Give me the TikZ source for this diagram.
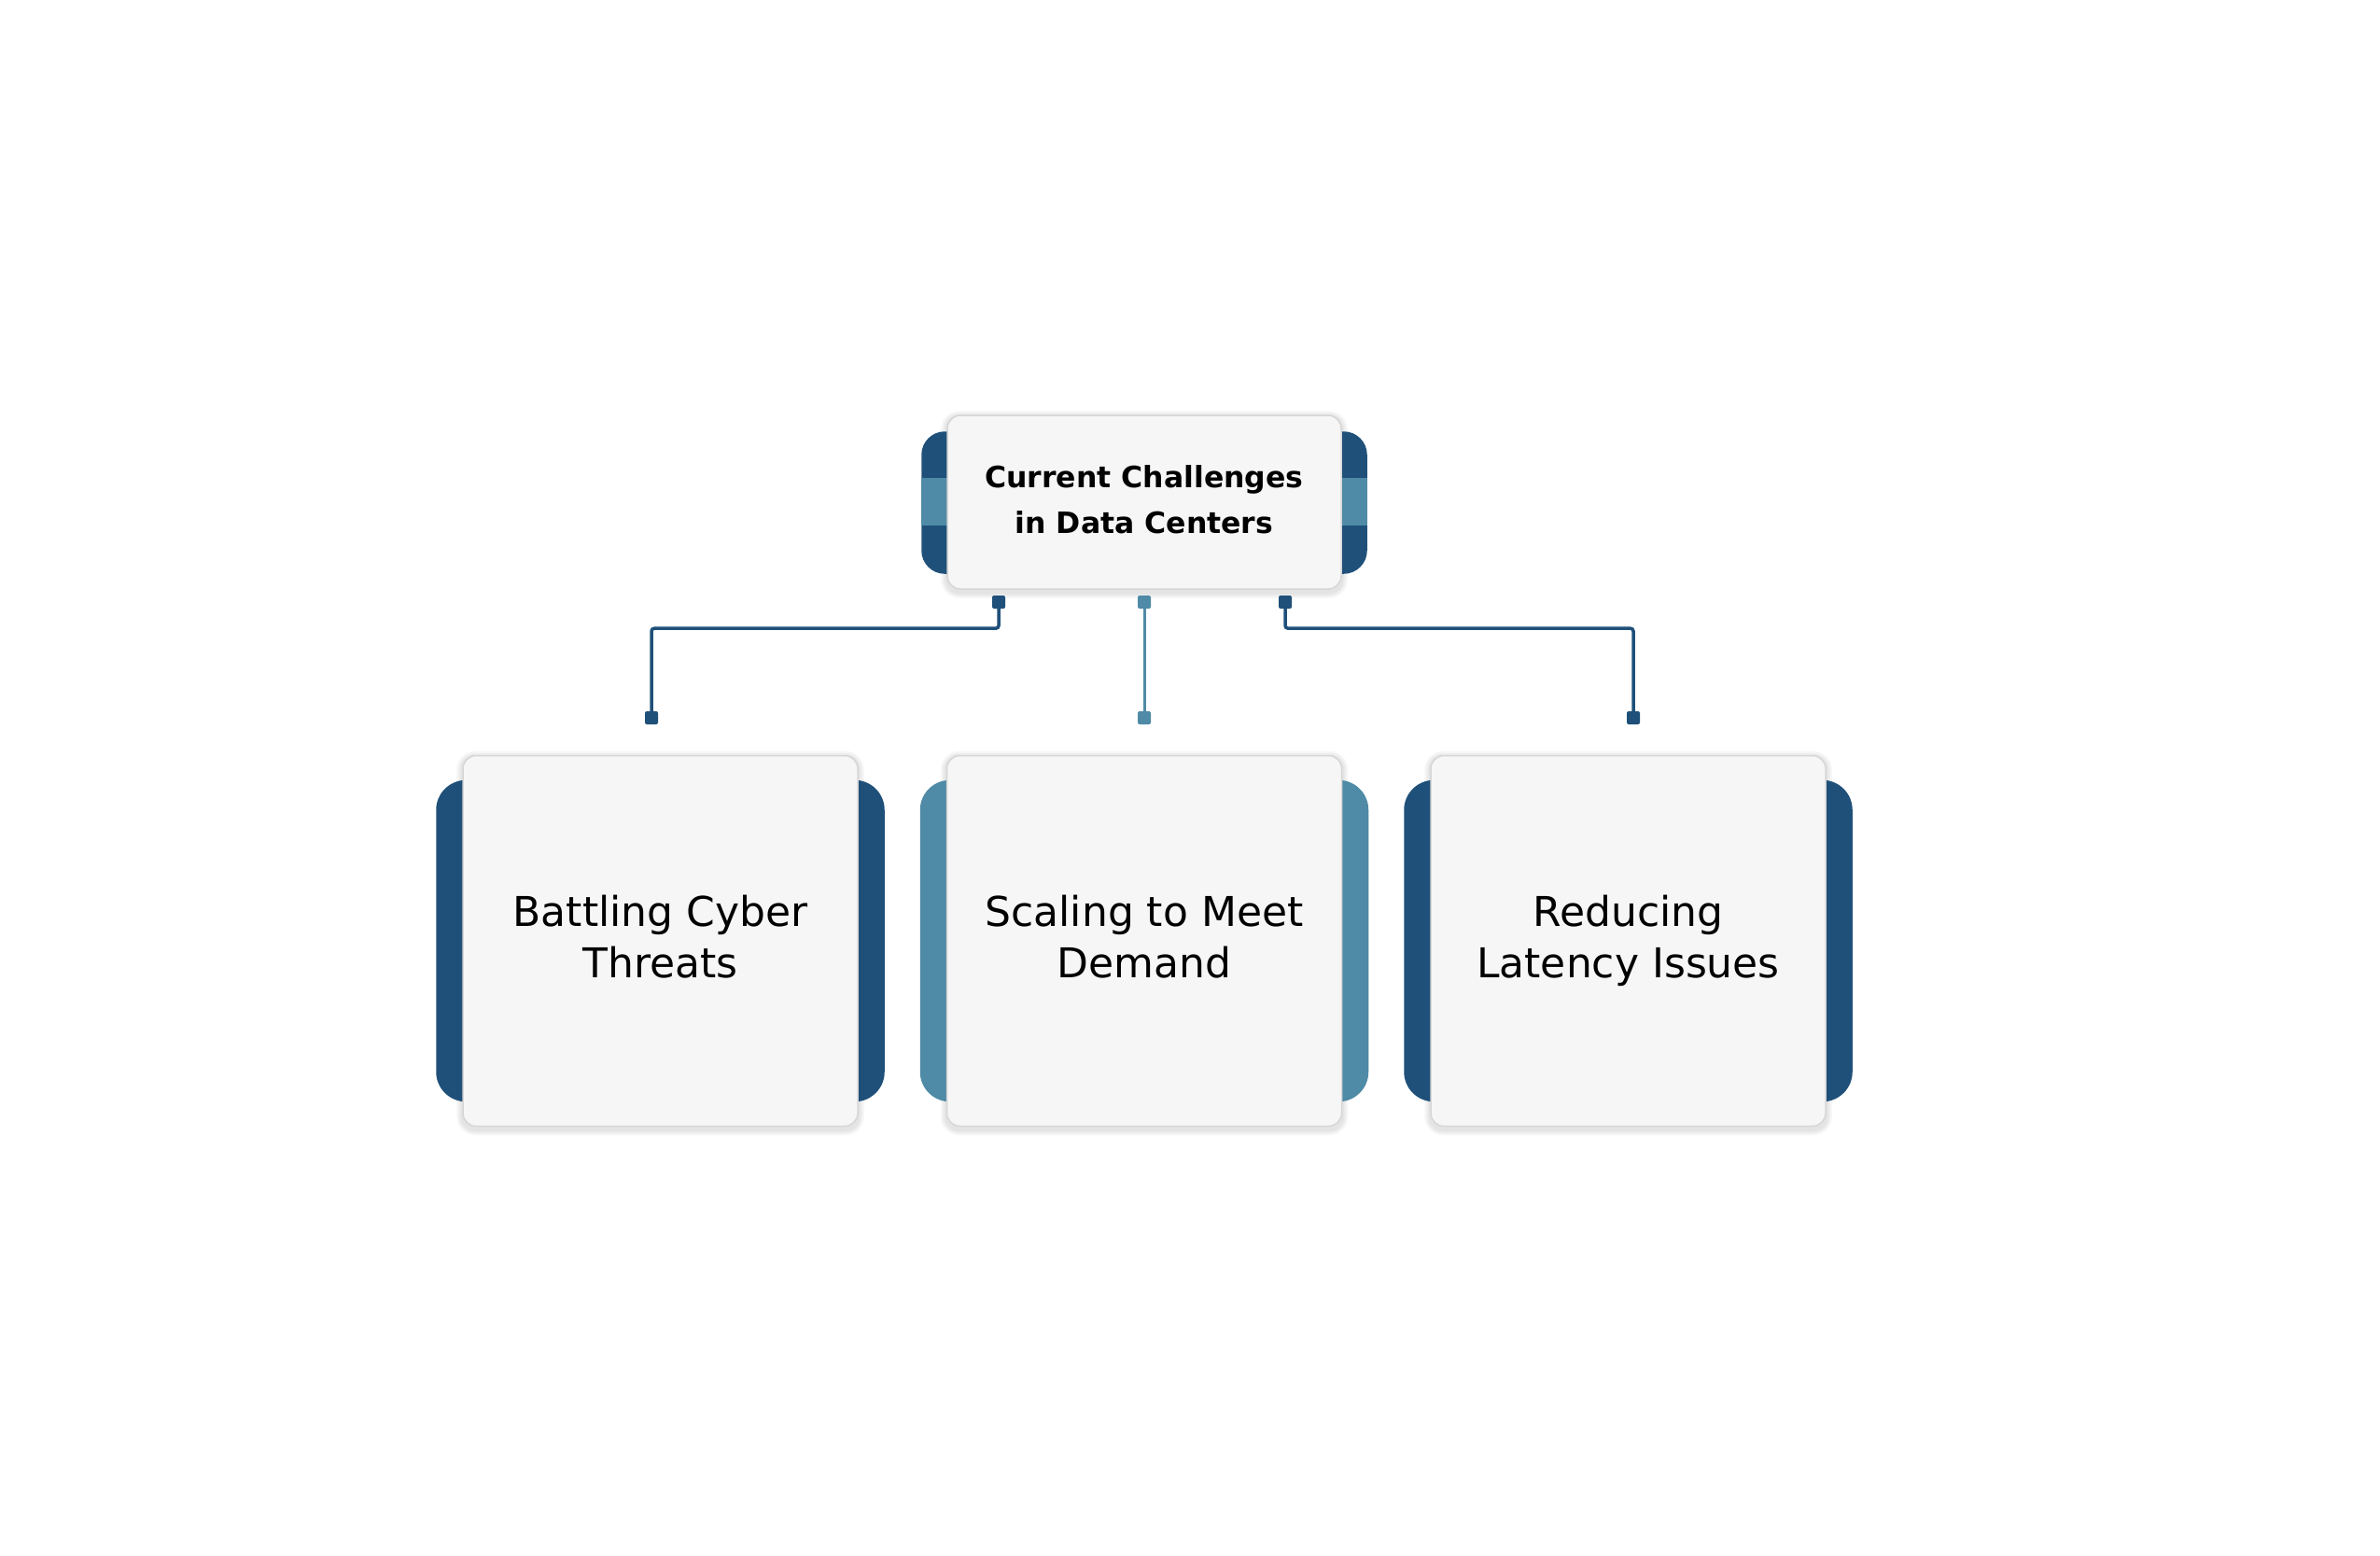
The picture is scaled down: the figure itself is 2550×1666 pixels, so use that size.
\documentclass[tikz,border=0pt]{standalone}
\usepackage{fontspec}
\setmainfont{DejaVu Sans}
\usetikzlibrary{backgrounds}
\definecolor{darkblue}{HTML}{1F5079}
\definecolor{tealblue}{HTML}{4F8AA6}
\definecolor{boxfill}{HTML}{F6F6F6}
\definecolor{boxline}{HTML}{D6D6D6}
\tikzset{
  card/.style={draw=boxline, line width=1.5pt, fill=boxfill, rounded corners=14pt, inner sep=0pt, align=center, execute at end node={\vphantom{Ay}}},
  topcard/.style={card, minimum width=422pt, minimum height=186pt, font=\fontsize{31.5pt}{49pt}\selectfont\bfseries},
  subcard/.style={card, minimum width=423pt, minimum height=397pt, font=\fontsize{44pt}{55pt}\selectfont},
  sq/.style={rectangle, rounded corners=2pt, minimum width=14pt, minimum height=14pt, inner sep=0pt},
  conn/.style={line width=3.5pt, rounded corners=3pt},
  shade/.style={fill=black, opacity=0.035}
}
\begin{document}
\begin{tikzpicture}[x=1pt, y=-1pt]
\useasboundingbox (0,0) rectangle (2550,1666);

\node[topcard] (top) at (1226,538) {Current Challenges\\in Data Centers};
\node[subcard] (b1) at (707.5,1008) {Battling Cyber\\Threats};
\node[subcard] (b2) at (1226,1008) {Scaling to Meet\\Demand};
\node[subcard] (b3) at (1744.5,1008) {Reducing\\Latency Issues};

\begin{scope}[on background layer]
  \fill[white] (0,0) rectangle (2550,1666);
  % soft shadows
  \foreach \n in {top,b1,b2,b3}{
    \foreach \e in {2,4,6}{
      \fill[shade, rounded corners=14pt+\e pt] ([xshift=-\e pt,yshift=\e pt-2pt]\n.north west) rectangle ([xshift=\e pt,yshift=-\e pt-3pt]\n.south east);
    }
  }
  % top tabs
  \fill[darkblue, rounded corners=25pt] ([xshift=-27pt,yshift=-18pt]top.north west) rectangle ([xshift=27pt,yshift=17pt]top.south east);
  \fill[tealblue] ([xshift=-27pt,yshift=-68pt]top.north west) rectangle ([xshift=27pt,yshift=-119pt]top.north east);
  % bottom tabs
  \fill[darkblue, rounded corners=32pt] ([xshift=-28pt,yshift=-27pt]b1.north west) rectangle ([xshift=28pt,yshift=27pt]b1.south east);
  \fill[tealblue, rounded corners=32pt] ([xshift=-28pt,yshift=-27pt]b2.north west) rectangle ([xshift=28pt,yshift=27pt]b2.south east);
  \fill[darkblue, rounded corners=32pt] ([xshift=-28pt,yshift=-27pt]b3.north west) rectangle ([xshift=28pt,yshift=27pt]b3.south east);
\end{scope}

% connector end squares
\node[sq, fill=darkblue] (s1) at (1070,645) {};
\node[sq, fill=tealblue] (s2) at (1226,645) {};
\node[sq, fill=darkblue] (s3) at (1377,645) {};
\node[sq, fill=darkblue] (e1) at (698,769) {};
\node[sq, fill=tealblue] (e2) at (1226,769) {};
\node[sq, fill=darkblue] (e3) at (1750,769) {};

\draw[conn, draw=darkblue] (s1.south) -- ++(0,-21pt) -| (e1.north);
\draw[conn, draw=tealblue, line width=3pt] (s2.south) -- (e2.north);
\draw[conn, draw=darkblue] (s3.south) -- ++(0,-21pt) -| (e3.north);
\end{tikzpicture}
\end{document}
